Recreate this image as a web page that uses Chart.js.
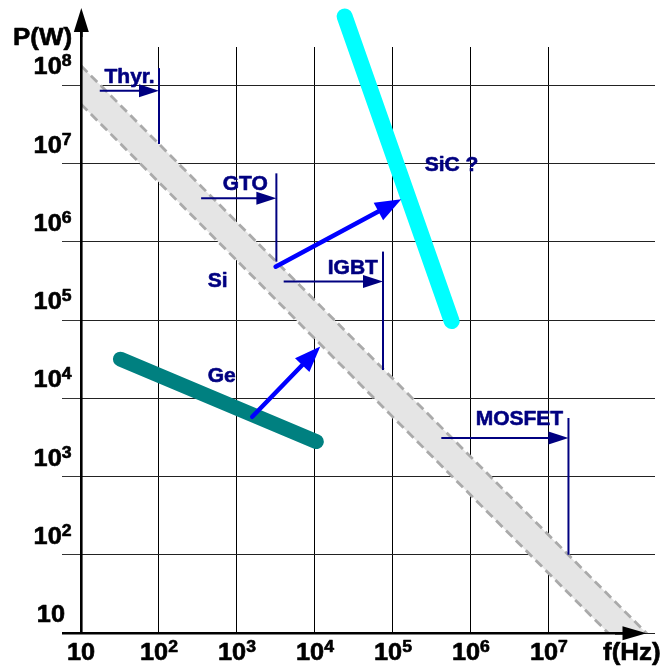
<!DOCTYPE html>
<html>
<head>
<meta charset="utf-8">
<title>P(W) vs f(Hz)</title>
<script src="https://cdn.jsdelivr.net/npm/chart.js@4/dist/chart.umd.min.js"></script>
<style>
  html, body { margin: 0; padding: 0; background: #fff; }
  #wrap { width: 660px; height: 667px; position: relative; }
</style>
</head>
<body>
<div id="wrap"><canvas id="c"></canvas></div>
<script>
// ---- axes: decades of frequency (Hz) and power (W) ----
const freqExponents = [1, 2, 3, 4, 5, 6, 7];
const powerExponents = [1, 2, 3, 4, 5, 6, 7, 8];
const freqDecades = freqExponents.map(e => Math.pow(10, e));
const powerDecades = powerExponents.map(e => Math.pow(10, e));

// ---- semiconductor materials ----
// Si operating band (upper and lower edge), W vs Hz
const siUpper = [{ x: 10, y: 1.78e8 }, { x: 3.16e8, y: 5.6 }];
const siLower = [{ x: 10, y: 5.75e7 }, { x: 3.16e8, y: 1.82 }];
// Ge region
const geLine = [{ x: 32, y: 3.16e4 }, { x: 1.04e4, y: 2.8e3 }];
// SiC (expected) region
const sicLine = [{ x: 2.4e4, y: 7.6e8 }, { x: 5.66e5, y: 9.7e4 }];

// ---- switching devices: frequency reach at a power level ----
const devices = ['Thyr.', 'GTO', 'IGBT', 'MOSFET'];
const devicePower = [8.5e7, 3.6e6, 3.1e5, 3.1e3];
const deviceFreqFrom = [17.4, 347, 3.97e3, 4.17e5];
const deviceFreqMax = [100, 3.2e3, 7.45e4, 1.78e7];
const deviceLimitLow = [1.78e7, 5.57e5, 2.3e4, 100];
const deviceLimitHigh = [1.66e8, 7.5e6, 7.5e5, 5.6e3];

// ---- material transitions Ge -> Si -> SiC ----
const transitionFrom = [{ x: 1.57e3, y: 5.8e3 }, { x: 3.13e3, y: 4.8e5 }];
const transitionTo = [{ x: 1.17e4, y: 4.6e4 }, { x: 1.28e5, y: 3.5e6 }];

// ---- region labels and where they sit (left edge, baseline) ----
const regionLabels = ['Thyr.', 'GTO', 'IGBT', 'MOSFET', 'Si', 'Ge', 'SiC ?'];
const labelAnchors = [
  { x: 20, y: 1.07e8 }, { x: 656, y: 4.6e6 }, { x: 1.46e4, y: 3.9e5 },
  { x: 1.15e6, y: 4.6e3 }, { x: 421, y: 2.65e5 }, { x: 421, y: 1.63e4 },
  { x: 2.55e5, y: 8.1e6 }
];

const FONT = '"Liberation Sans", Arial, Helvetica, sans-serif';
const NAVY = '#000080';

const datasets = [
  { label: 'Si upper', data: siUpper, borderColor: '#aaaaaa', borderWidth: 2.8,
    borderDash: [9, 5], backgroundColor: '#e5e5e5', fill: '+1', clip: 0, order: 20 },
  { label: 'Si lower', data: siLower, borderColor: '#aaaaaa', borderWidth: 2.8,
    borderDash: [9, 5], fill: false, clip: 0, order: 19 },
  { label: 'Ge', data: geLine, borderColor: '#008080', borderWidth: 15,
    borderCapStyle: 'round', fill: false, order: 10 },
  { label: 'SiC', data: sicLine, borderColor: '#00ffff', borderWidth: 16,
    borderCapStyle: 'round', fill: false, clip: false, order: 10 }
];
devices.forEach((d, i) => {
  datasets.push({
    label: d + ' limit',
    data: [{ x: deviceFreqMax[i], y: deviceLimitLow[i] }, { x: deviceFreqMax[i], y: deviceLimitHigh[i] }],
    borderColor: NAVY, borderWidth: 2, fill: false, order: 5
  });
});

// bold text, optionally widened horizontally
function drawText(ctx, str, x, y, size, color, sx) {
  sx = sx || 1;
  ctx.save();
  ctx.font = 'bold ' + size + 'px ' + FONT;
  ctx.fillStyle = color;
  ctx.strokeStyle = color;
  ctx.lineWidth = 0.6;
  ctx.lineJoin = 'round';
  ctx.textAlign = 'left';
  ctx.textBaseline = 'alphabetic';
  ctx.translate(x, y);
  ctx.scale(sx, 1);
  ctx.fillText(str, 0, 0);
  ctx.strokeText(str, 0, 0);
  ctx.restore();
}
function textWidth(ctx, str, size, sx) {
  ctx.save();
  ctx.font = 'bold ' + size + 'px ' + FONT;
  const w = ctx.measureText(str).width * (sx || 1);
  ctx.restore();
  return w;
}
const TICK_SX = 1.1;
// "10" with a raised exponent, drawn from left edge x
function drawPower(ctx, exp, x, y) {
  drawText(ctx, '10', x, y, 23, '#000', TICK_SX);
  if (exp !== 1) drawText(ctx, String(exp), x + textWidth(ctx, '10', 23, TICK_SX), y - 8, 16, '#000', TICK_SX);
}
function powerWidth(ctx, exp) {
  return textWidth(ctx, '10', 23, TICK_SX) + (exp !== 1 ? textWidth(ctx, String(exp), 16, TICK_SX) : 0);
}

function arrow(ctx, x0, y0, x1, y1, width, len, half, color, cap) {
  const a = Math.atan2(y1 - y0, x1 - x0);
  const c = Math.cos(a), s = Math.sin(a);
  ctx.save();
  ctx.strokeStyle = color;
  ctx.fillStyle = color;
  ctx.lineWidth = width;
  ctx.lineCap = cap || 'butt';
  ctx.beginPath();
  ctx.moveTo(x0, y0);
  ctx.lineTo(x1 - len * 0.7 * c, y1 - len * 0.7 * s);
  ctx.stroke();
  ctx.beginPath();
  ctx.moveTo(x1, y1);
  ctx.lineTo(x1 - len * c + half * s, y1 - len * s - half * c);
  ctx.lineTo(x1 - len * c - half * s, y1 - len * s + half * c);
  ctx.closePath();
  ctx.fill();
  ctx.restore();
}

const overlay = {
  id: 'overlay',
  afterDraw(chart) {
    const ctx = chart.ctx;
    const xs = chart.scales.x, ys = chart.scales.y;
    const area = chart.chartArea;
    const px = v => xs.getPixelForValue(v);
    const py = v => ys.getPixelForValue(v);

    // device frequency-range arrows
    devices.forEach((d, i) => {
      arrow(ctx, px(deviceFreqFrom[i]), py(devicePower[i]), px(deviceFreqMax[i]), py(devicePower[i]),
        2, 20, 6.5, NAVY);
    });
    // material transition arrows
    transitionFrom.forEach((p, i) => {
      const q = transitionTo[i];
      arrow(ctx, px(p.x), py(p.y), px(q.x), py(q.y), 4.5, 26, 10, '#0000ff', 'round');
    });
    // region labels
    regionLabels.forEach((t, i) => {
      drawText(ctx, t, px(labelAnchors[i].x), py(labelAnchors[i].y), 21, NAVY);
    });

    // axes with arrow heads
    const x0 = Math.round(area.left) + 0.3, yb = Math.round(area.bottom) + 0.3;
    ctx.save();
    ctx.strokeStyle = '#000';
    ctx.lineWidth = 2.6;
    ctx.beginPath();
    ctx.moveTo(62, yb); ctx.lineTo(area.right - 20, yb);
    ctx.moveTo(x0, yb); ctx.lineTo(x0, area.top - 25);
    ctx.stroke();
    ctx.restore();
    arrow(ctx, area.right - 40, yb, area.right - 8.5, yb, 2.6, 24, 7, '#000');
    arrow(ctx, x0, area.top - 10, x0, area.top - 39, 2.6, 24, 7.5, '#000');

    // tick labels
    freqExponents.forEach((e, i) => {
      const w = powerWidth(ctx, e);
      drawPower(ctx, e, px(freqDecades[i]) - w / 2, 660);
    });
    powerExponents.forEach((e, i) => {
      const right = e === 1 ? 65 : 71.5;
      drawPower(ctx, e, right - powerWidth(ctx, e), py(powerDecades[i]) - 11);
    });

    // axis titles
    drawText(ctx, 'P(W)', 13, 45, 24, '#000', 1.08);
    drawText(ctx, 'f(Hz)', 603, 660, 24, '#000', 1.08);
  }
};

new Chart(document.getElementById('c'), {
  type: 'line',
  data: { datasets },
  options: {
    responsive: true,
    maintainAspectRatio: false,
    animation: false,
    events: [],
    layout: { padding: { left: 0, top: 47, right: 5, bottom: 0 } },
    elements: { point: { radius: 0, hoverRadius: 0 }, line: { tension: 0 } },
    plugins: {
      legend: { display: false },
      tooltip: { enabled: false },
      filler: { drawTime: 'beforeDatasetsDraw' }
    },
    scales: {
      x: {
        type: 'logarithmic', min: 10, max: Math.pow(10, 8.36), z: 1,
        afterBuildTicks: s => { s.ticks = freqDecades.map(v => ({ value: v })); },
        afterFit: s => { s.height = 34; },
        ticks: { display: false },
        border: { display: false },
        grid: { color: '#000', lineWidth: 1, borderDash: [1, 1], drawTicks: false }
      },
      y: {
        type: 'logarithmic', min: 10, max: Math.pow(10, 8.49), z: 1,
        afterBuildTicks: s => { s.ticks = powerDecades.map(v => ({ value: v })); },
        afterFit: s => { s.width = 81; },
        ticks: { display: false },
        border: { display: false },
        grid: { color: '#222', lineWidth: 1, borderDash: [1, 1], drawTicks: true,
                tickLength: 19, tickColor: '#333', tickWidth: 1, tickBorderDash: [] }
      }
    }
  },
  plugins: [overlay]
});
</script>
</body>
</html>
